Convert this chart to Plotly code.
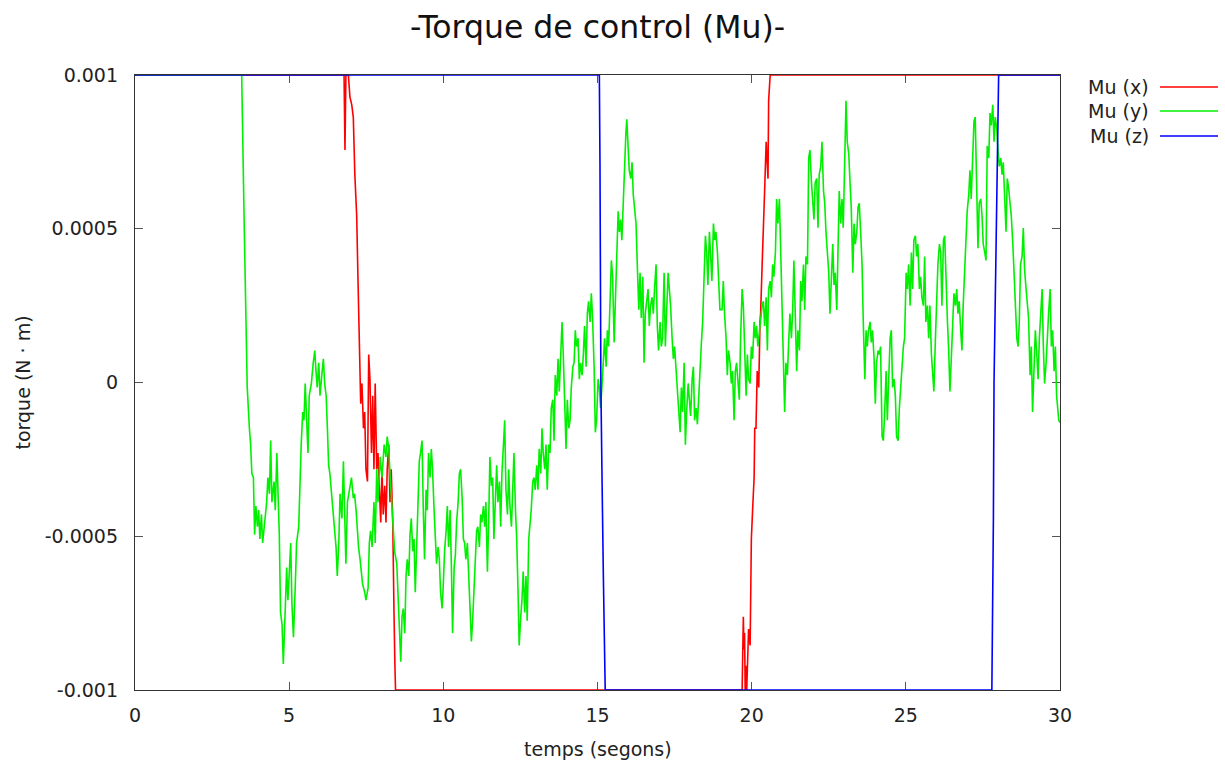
import plotly.graph_objects as go

# Values in micro N·m (1e-6 N·m), time in seconds
UNIT = 1e-6

MU_X = [(0.00, 1000), (6.70, 1000), (6.78, 1000), (6.81, 756), (6.84, 1000), (6.92, 1000),
        (6.97, 929), (7.03, 903), (7.08, 863), (7.13, 676), (7.19, 543), (7.23, 344),
        (7.28, 91), (7.32, -69), (7.36, -3), (7.41, -149), (7.45, -96), (7.49, -282),
        (7.54, -322), (7.58, 91), (7.62, 11), (7.67, -229), (7.71, -43), (7.75, -282),
        (7.79, -3), (7.84, -282), (7.88, -229), (7.92, -349), (7.97, -455), (8.01, -282),
        (8.05, -429), (8.10, -336), (8.14, -455), (8.18, -282), (8.23, -202), (8.27, -389),
        (8.31, -282), (8.36, -455), (8.38, -549), (8.40, -748), (8.43, -921), (8.45, -1000),
        (19.69, -1000), (19.71, -842), (19.73, -762), (19.75, -868), (19.77, -815),
        (19.79, -1000), (19.82, -921), (19.84, -1000), (19.88, -842), (19.90, -802),
        (19.95, -855), (19.99, -509), (20.03, -415), (20.08, -309), (20.10, -149),
        (20.14, -149), (20.18, 37), (20.23, -16), (20.27, 197), (20.29, 224), (20.34, 384),
        (20.38, 543), (20.42, 623), (20.47, 783), (20.49, 716), (20.53, 663), (20.55, 916),
        (20.60, 1000), (30.00, 1000)]

MU_Y = [(0.00, 1000), (3.46, 1000), (3.54, 523), (3.59, 290), (3.62, 130), (3.64, -16),
        (3.71, -149), (3.75, -202), (3.79, -296), (3.84, -309), (3.88, -495), (3.92, -402),
        (3.97, -469), (4.01, -415), (4.05, -509), (4.10, -429), (4.14, -522), (4.21, -442),
        (4.27, -389), (4.31, -309), (4.36, -362), (4.40, -189), (4.44, -389), (4.51, -322),
        (4.55, -415), (4.60, -229), (4.64, -376), (4.68, -495), (4.72, -748), (4.77, -788),
        (4.81, -915), (4.88, -682), (4.92, -602), (4.96, -708), (5.01, -589), (5.05, -522),
        (5.09, -722), (5.14, -828), (5.20, -655), (5.24, -522), (5.31, -469), (5.35, -282),
        (5.39, -202), (5.44, -96), (5.48, -123), (5.52, -3), (5.57, -109), (5.61, -229),
        (5.65, -43), (5.72, -3), (5.78, 64), (5.83, 104), (5.87, 37), (5.91, -16),
        (5.96, 64), (6.00, -43), (6.07, 37), (6.11, 77), (6.15, -3), (6.20, -43),
        (6.24, -149), (6.28, -269), (6.32, -296), (6.37, -362), (6.43, -415), (6.48, -509),
        (6.52, -535), (6.56, -629), (6.61, -522), (6.65, -362), (6.71, -442), (6.76, -256),
        (6.80, -389), (6.84, -589), (6.89, -389), (6.93, -362), (6.97, -336), (7.02, -309),
        (7.08, -376), (7.12, -362), (7.17, -415), (7.21, -482), (7.25, -535), (7.30, -575),
        (7.34, -615), (7.38, -655), (7.45, -682), (7.49, -708), (7.56, -668), (7.60, -522),
        (7.64, -482), (7.69, -535), (7.75, -389), (7.79, -522), (7.84, -282), (7.88, -389),
        (7.95, -242), (8.01, -309), (8.08, -202), (8.14, -242), (8.18, -176), (8.23, -216),
        (8.27, -296), (8.36, -469), (8.42, -549), (8.49, -589), (8.53, -682), (8.57, -788),
        (8.62, -908), (8.66, -762), (8.70, -735), (8.75, -815), (8.79, -629), (8.83, -575),
        (8.88, -629), (8.92, -495), (8.96, -442), (9.01, -549), (9.05, -509), (9.09, -682),
        (9.13, -522), (9.18, -415), (9.22, -256), (9.26, -229), (9.31, -189), (9.35, -415),
        (9.39, -575), (9.44, -349), (9.48, -415), (9.52, -229), (9.57, -309), (9.61, -216),
        (9.65, -282), (9.70, -415), (9.74, -482), (9.78, -589), (9.83, -535), (9.87, -575),
        (9.91, -682), (9.96, -735), (10.00, -655), (10.04, -549), (10.09, -482),
        (10.13, -402), (10.17, -535), (10.22, -415), (10.26, -589), (10.30, -815),
        (10.35, -602), (10.39, -562), (10.43, -455), (10.48, -389), (10.52, -296),
        (10.56, -282), (10.61, -376), (10.65, -509), (10.69, -522), (10.73, -575),
        (10.78, -522), (10.82, -642), (10.86, -722), (10.91, -842), (10.95, -775),
        (10.99, -682), (11.04, -615), (11.08, -482), (11.12, -469), (11.17, -535),
        (11.21, -429), (11.25, -455), (11.30, -402), (11.34, -469), (11.38, -389),
        (11.43, -615), (11.47, -455), (11.51, -242), (11.56, -336), (11.60, -309),
        (11.64, -509), (11.69, -362), (11.73, -269), (11.77, -389), (11.82, -322),
        (11.86, -469), (11.90, -296), (11.95, -202), (11.99, -123), (12.03, -349),
        (12.08, -429), (12.12, -282), (12.16, -402), (12.21, -469), (12.25, -336),
        (12.29, -229), (12.34, -415), (12.38, -509), (12.42, -668), (12.46, -855),
        (12.51, -762), (12.55, -708), (12.59, -615), (12.64, -748), (12.68, -629),
        (12.72, -775), (12.77, -509), (12.81, -469), (12.85, -415), (12.90, -322),
        (12.94, -309), (12.98, -349), (13.03, -269), (13.07, -349), (13.11, -216),
        (13.16, -296), (13.20, -149), (13.24, -229), (13.29, -282), (13.33, -202),
        (13.37, -349), (13.42, -202), (13.46, -229), (13.50, -83), (13.55, -56),
        (13.59, -189), (13.63, 24), (13.68, -43), (13.72, 77), (13.76, -29), (13.81, 130),
        (13.85, 197), (13.89, 91), (13.94, -123), (13.98, -216), (14.02, -56),
        (14.07, -149), (14.11, -123), (14.15, -16), (14.20, 51), (14.24, 64), (14.28, 170),
        (14.32, 117), (14.37, 144), (14.41, 11), (14.45, 64), (14.50, 24), (14.54, 91),
        (14.58, 184), (14.63, 51), (14.67, 224), (14.71, 264), (14.76, 197), (14.80, 290),
        (14.84, 210), (14.89, 51), (14.93, -162), (14.97, -123), (15.02, 11), (15.06, -16),
        (15.10, -83), (15.15, -3), (15.19, 64), (15.23, 144), (15.28, 51), (15.32, 170),
        (15.36, 117), (15.41, 304), (15.45, 397), (15.49, 344), (15.54, 130), (15.58, 264),
        (15.62, 410), (15.67, 557), (15.71, 490), (15.75, 530), (15.79, 463), (15.84, 597),
        (15.88, 743), (15.92, 810), (15.95, 856), (15.99, 783), (16.03, 690), (16.08, 663),
        (16.12, 716), (16.16, 610), (16.21, 543), (16.25, 517), (16.29, 384), (16.34, 237),
        (16.38, 357), (16.42, 210), (16.47, 344), (16.51, 64), (16.55, 224), (16.60, 264),
        (16.64, 304), (16.68, 184), (16.72, 250), (16.77, 277), (16.81, 224), (16.85, 304),
        (16.90, 384), (16.94, 184), (16.98, 104), (17.03, 197), (17.07, 117), (17.11, 144),
        (17.16, 357), (17.20, 117), (17.24, 224), (17.29, 357), (17.33, 304), (17.37, 250),
        (17.42, 144), (17.46, 77), (17.50, 117), (17.55, 37), (17.59, 11), (17.63, -83),
        (17.68, -162), (17.72, -16), (17.76, -96), (17.81, 64), (17.85, -202), (17.89, -96),
        (17.94, -3), (17.98, -56), (18.02, -109), (18.07, 11), (18.11, 51), (18.15, -123),
        (18.20, -83), (18.24, -136), (18.28, -43), (18.32, 64), (18.37, 130), (18.41, 197),
        (18.45, 304), (18.50, 477), (18.54, 423), (18.58, 317), (18.63, 490), (18.67, 397),
        (18.71, 330), (18.76, 517), (18.80, 463), (18.84, 490), (18.89, 423), (18.93, 330),
        (18.97, 237), (19.04, 237), (19.08, 330), (19.12, 224), (19.17, 144), (19.21, 24),
        (19.25, 104), (19.30, 64), (19.34, -3), (19.38, 37), (19.43, -123), (19.47, 37),
        (19.51, 64), (19.56, -3), (19.60, -56), (19.64, 144), (19.69, 304), (19.73, 250),
        (19.77, 104), (19.82, -43), (19.86, 91), (19.90, 11), (19.95, -3), (19.99, 117),
        (20.03, 77), (20.08, 197), (20.12, 144), (20.16, 184), (20.20, 117), (20.25, 170),
        (20.29, 197), (20.34, 250), (20.38, 264), (20.42, 184), (20.47, 277), (20.51, 104),
        (20.55, 304), (20.60, 330), (20.64, 277), (20.68, 384), (20.72, 344), (20.77, 423),
        (20.81, 597), (20.85, 517), (20.90, 597), (20.94, 437), (20.98, 224), (21.03, 64),
        (21.07, -96), (21.11, 64), (21.16, 24), (21.20, 130), (21.24, 224), (21.29, 144),
        (21.33, 236), (21.37, 397), (21.42, 224), (21.46, 37), (21.50, 170), (21.55, 104),
        (21.59, 330), (21.63, 264), (21.68, 384), (21.72, 236), (21.76, 410), (21.81, 384),
        (21.85, 730), (21.89, 756), (21.94, 650), (21.98, 570), (22.02, 530), (22.06, 650),
        (22.11, 663), (22.15, 503), (22.19, 676), (22.24, 703), (22.28, 783), (22.33, 623),
        (22.37, 583), (22.41, 490), (22.46, 397), (22.50, 357), (22.54, 224), (22.58, 357),
        (22.63, 450), (22.67, 317), (22.71, 357), (22.76, 236), (22.80, 410), (22.84, 623),
        (22.89, 517), (22.93, 597), (22.97, 503), (23.02, 810), (23.06, 916), (23.10, 783),
        (23.15, 743), (23.19, 650), (23.23, 570), (23.28, 357), (23.32, 517), (23.36, 450),
        (23.41, 490), (23.45, 570), (23.49, 583), (23.54, 477), (23.58, 384), (23.62, 197),
        (23.67, 11), (23.71, 170), (23.75, 117), (23.79, 170), (23.84, 197), (23.88, 130),
        (23.92, 170), (23.97, 77), (24.01, -69), (24.05, 64), (24.10, 104), (24.14, 91),
        (24.18, 117), (24.23, -176), (24.27, -189), (24.31, -109), (24.36, 37),
        (24.40, -123), (24.44, -16), (24.49, 144), (24.53, 170), (24.57, -16), (24.62, 11),
        (24.66, -43), (24.70, -176), (24.75, -189), (24.79, -83), (24.83, -16), (24.88, 64),
        (24.92, 117), (24.96, 144), (25.01, 357), (25.05, 304), (25.09, 384), (25.14, 250),
        (25.18, 423), (25.22, 304), (25.26, 463), (25.31, 477), (25.35, 410), (25.39, 450),
        (25.44, 304), (25.48, 344), (25.52, 277), (25.57, 250), (25.61, 410), (25.65, 197),
        (25.70, 250), (25.74, 144), (25.78, 250), (25.83, 91), (25.87, 11), (25.91, -29),
        (25.96, 144), (26.00, 250), (26.04, 384), (26.09, 450), (26.13, 423), (26.17, 250),
        (26.22, 463), (26.26, 477), (26.30, 330), (26.35, 197), (26.39, 104), (26.43, -29),
        (26.48, 91), (26.52, 224), (26.56, 290), (26.61, 250), (26.65, 304), (26.69, 224),
        (26.73, 264), (26.78, 170), (26.82, 104), (26.86, 250), (26.91, 357), (26.95, 463),
        (26.99, 557), (27.04, 610), (27.08, 690), (27.12, 597), (27.17, 743), (27.21, 850),
        (27.25, 863), (27.30, 623), (27.34, 437), (27.38, 583), (27.43, 597), (27.47, 543),
        (27.51, 450), (27.56, 423), (27.60, 397), (27.64, 770), (27.69, 730), (27.73, 876),
        (27.77, 836), (27.82, 903), (27.86, 783), (27.90, 863), (27.95, 823), (27.99, 756),
        (28.03, 703), (28.08, 730), (28.12, 676), (28.16, 716), (28.21, 597), (28.25, 490),
        (28.29, 663), (28.33, 636), (28.38, 583), (28.42, 543), (28.47, 450), (28.51, 357),
        (28.55, 264), (28.60, 144), (28.64, 117), (28.68, 197), (28.72, 384), (28.77, 410),
        (28.81, 502), (28.85, 370), (28.90, 304), (28.94, 250), (28.98, 210), (29.03, 24),
        (29.07, 117), (29.11, -96), (29.16, 37), (29.20, 170), (29.24, 104), (29.29, 11),
        (29.33, 144), (29.37, 210), (29.42, 304), (29.46, 117), (29.50, -3), (29.55, 64),
        (29.59, 170), (29.63, 224), (29.68, 304), (29.72, 117), (29.76, 170), (29.81, 37),
        (29.85, 117), (29.89, -43), (29.96, -123), (30.00, -130)]

MU_Z = [(0.00, 1000), (15.06, 1000), (15.08, 716), (15.11, -16), (15.15, -336),
        (15.17, -549), (15.19, -629), (15.22, -815), (15.25, -1000), (27.79, -1000),
        (27.82, -748), (27.84, -442), (27.86, -3), (27.90, 304), (27.95, 650),
        (28.01, 1000), (30.00, 1000)]

SERIES_NAMES = ["Mu (x)", "Mu (y)", "Mu (z)"]
SERIES_COLORS = ["#ff0000", "#00f000", "#0000ff"]
X_TICKS = [0, 5, 10, 15, 20, 25, 30]
Y_TICK_VALUES = [-0.001, -0.0005, 0, 0.0005, 0.001]
Y_TICK_LABELS = ["-0.001", "-0.0005", "0", "0.0005", "0.001"]

FONT = "DejaVu Sans"
W, H = 1225, 765
ML, MR, MT, MB = 135, 165, 75, 75
PW, PH = W - ML - MR, H - MT - MB

fig = go.Figure()
for name, color, data in zip(SERIES_NAMES, SERIES_COLORS, [MU_X, MU_Y, MU_Z]):
    t = [p[0] for p in data]
    v = [p[1] * UNIT for p in data]
    fig.add_trace(go.Scatter(x=t, y=v, mode="lines", name=name,
                             line=dict(color=color, width=1.6), showlegend=False))

axis_common = dict(showline=True, mirror="ticks", linecolor="#333333", linewidth=1.3,
                   ticks="inside", ticklen=8, tickwidth=1.2, tickcolor="#555555",
                   showgrid=False, zeroline=False, layer="below traces",
                   tickfont=dict(family=FONT, size=19, color="#222222"))

fig.update_layout(
    width=W, height=H,
    margin=dict(l=ML, r=MR, t=MT, b=MB),
    paper_bgcolor="white", plot_bgcolor="white",
    font=dict(family=FONT, color="#222222"),
    title=dict(text="-Torque de control (Mu)-", x=0.5, xref="paper", xanchor="center",
               y=1 - 27 / H, yref="container", yanchor="middle",
               font=dict(family=FONT, size=31.5, color="#111111")),
    xaxis=dict(range=[0, 30], tickvals=X_TICKS, ticklabelstandoff=8, **axis_common),
    yaxis=dict(range=[-0.001, 0.001], tickvals=Y_TICK_VALUES, ticktext=Y_TICK_LABELS,
               ticklabelstandoff=12, **axis_common),
)

annotations = [
    dict(text="temps (segons)", x=0.5, xref="paper", y=(H - MB - 749) / PH, yref="paper",
         xanchor="center", yanchor="middle", showarrow=False,
         font=dict(family=FONT, size=19, color="#222222")),
    dict(text="torque (N · m)", x=(22 - ML) / PW, xref="paper", y=0.5, yref="paper",
         xanchor="center", yanchor="middle", showarrow=False, textangle=-90,
         font=dict(family=FONT, size=19, color="#222222")),
]
shapes = []
legend_y_px = [87, 111, 136]
for name, color, ypx in zip(SERIES_NAMES, SERIES_COLORS, legend_y_px):
    yp = (H - MB - ypx) / PH
    annotations.append(dict(text=name, x=(1151 - ML) / PW, xref="paper", y=yp, yref="paper",
                            xanchor="right", yanchor="middle", showarrow=False,
                            font=dict(family=FONT, size=19, color="#222222")))
    shapes.append(dict(type="line", xref="paper", yref="paper",
                       x0=(1160 - ML) / PW, x1=(1218 - ML) / PW, y0=yp, y1=yp,
                       line=dict(color=color, width=1.5)))
fig.update_layout(annotations=annotations, shapes=shapes)

fig.write_html("out.html", config={"displayModeBar": False})
